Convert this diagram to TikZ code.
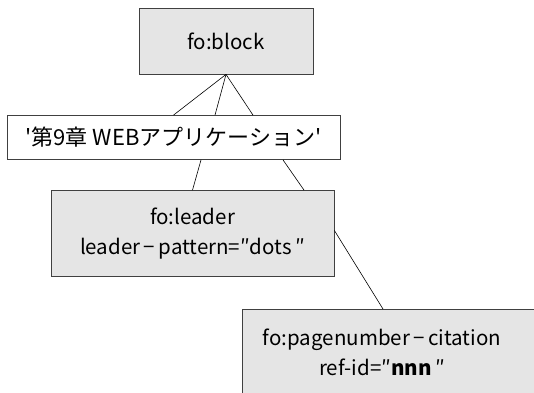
\documentclass[tikz,border=0pt]{standalone}
\usepackage{fontspec}
\setmainfont{Noto Sans CJK JP}
\usepackage{tikz}
\usetikzlibrary{positioning, calc}

\begin{document}
\begin{tikzpicture}[
    x=1pt, y=-1pt,
    elembox/.style={draw=black!75, line width=0.8pt, fill=black!10, inner sep=0pt, align=center},
    textbox/.style={draw=black!75, line width=0.8pt, fill=white, inner sep=0pt, align=center},
    link/.style={draw=black, line width=0.6pt},
    every node/.style={font=\fontsize{20.5}{30}\selectfont}
]
\useasboundingbox (0,0) rectangle (534,392);

% Boxes
\node[elembox, minimum width=174pt, minimum height=66pt] (block) at (226,41) {fo:block};
\node[textbox, minimum width=333pt, minimum height=44pt, font=\fontsize{22}{30}\selectfont] (title) at (173.5,137.5) {\textquotesingle 第9章 WEBアプリケーション\textquotesingle};
\node[elembox, minimum width=283pt, minimum height=86pt] (leader) at (192.5,233.5) {fo:leader\\leader\,−\,pattern=″dots\,″};
\node[elembox, anchor=north west, minimum width=330pt, minimum height=100pt] (cite) at (242,309) {};
\node[align=center, inner sep=0pt] (citetext) at (382,352) {fo:pagenumber\,−\,citation\\ref-id=″\textbf{nnn}\,″};

% Links
\draw[link] (block.south) -- (title.north);
\draw[link] (block.south) -- ([xshift=41.5pt]title.north);
\draw[link] (block.south) -- ([xshift=79.5pt]title.north);
\draw[link] ([xshift=27.5pt]title.south) -- (leader.north);
\draw[link] ([xshift=109.5pt]title.south) -- ([xshift=111.5pt]leader.north);
\draw[link] ([yshift=3pt]leader.east) -- ([xshift=141pt]cite.north west);
\end{tikzpicture}
\end{document}
